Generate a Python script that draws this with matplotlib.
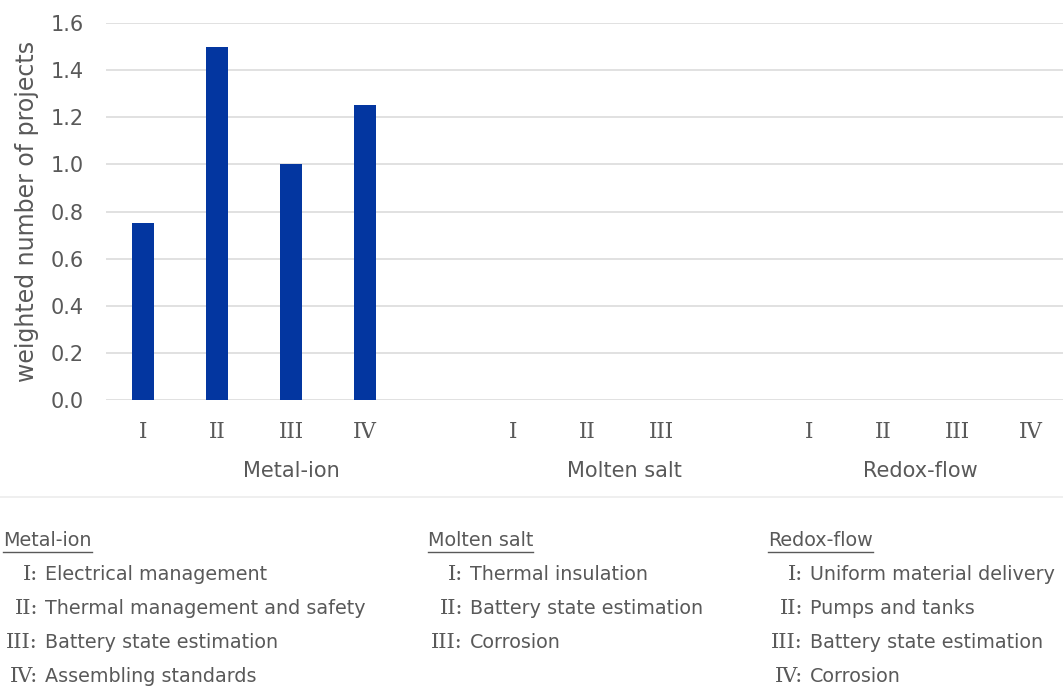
import matplotlib
matplotlib.use('Agg')
import matplotlib.pyplot as plt
from matplotlib.lines import Line2D

# data
groups = ['Metal-ion', 'Molten salt', 'Redox-flow']
subcats = [['I', 'II', 'III', 'IV'],
           ['I', 'II', 'III'],
           ['I', 'II', 'III', 'IV']]
values = [[0.75, 1.5, 1.0, 1.25],
          [0, 0, 0],
          [0, 0, 0, 0]]
descriptions = [['Electrical management', 'Thermal management and safety',
                 'Battery state estimation', 'Assembling standards'],
                ['Thermal insulation', 'Battery state estimation', 'Corrosion'],
                ['Uniform material delivery', 'Pumps and tanks',
                 'Battery state estimation', 'Corrosion']]
yticks = [0.0, 0.2, 0.4, 0.6, 0.8, 1.0, 1.2, 1.4, 1.6]

W, H = 1063, 686
bar_color = '#0336a0'
txt_color = '#595959'
grid_color = '#dcdcdc'
sans = 'DejaVu Sans'
serif = 'DejaVu Serif'

fig = plt.figure(figsize=(W / 100, H / 100), dpi=100)
# axes in pixel coords: left 106, bottom 400, top 23, width 13 slots of 74 px
ax = fig.add_axes([106 / W, 1 - 400 / H, 962 / W, 377 / H])

# slot positions, one blank slot between groups
positions, labels, heights, centers = [], [], [], []
pos = 0
for g, (cats, vals) in enumerate(zip(subcats, values)):
    start = pos
    for c, v in zip(cats, vals):
        positions.append(pos)
        labels.append(c)
        heights.append(v)
        pos += 1
    # group label spans its slots plus the blank slot after it
    end = pos if g < len(groups) - 1 else pos - 1
    centers.append((start + end) / 2)
    pos += 1

ax.bar(positions, heights, width=0.31, color=bar_color, zorder=3)
ax.set_xlim(-0.5, 12.5)
ax.set_ylim(0, 1.6)
ax.set_yticks(yticks, [f'{t:.1f}' for t in yticks])
ax.set_xticks(positions, labels)
for lab in ax.get_xticklabels():
    lab.set_fontfamily(serif)
ax.tick_params(axis='x', length=0, pad=15, labelsize=15.5, labelcolor=txt_color)
ax.tick_params(axis='y', length=0, pad=16, labelsize=15, labelcolor=txt_color)
ax.grid(axis='y', color=grid_color, linewidth=1.2, zorder=0)
for s in ax.spines.values():
    s.set_visible(False)
ax.set_ylabel('weighted number of projects', fontsize=17, color=txt_color,
              labelpad=8)

# group labels under the numerals
for name, cx in zip(groups, centers):
    ax.annotate(name, xy=(cx, 0), xycoords=ax.get_xaxis_transform(),
                xytext=(0, -71), textcoords='offset pixels',
                ha='center', va='center', fontsize=15, color=txt_color,
                family=sans)

# separator line under the chart
fig.add_artist(Line2D([0, 1], [1 - 497 / H] * 2, color='#ececec',
                      linewidth=1.2, transform=fig.transFigure))

# explanation block
col_x = [3, 428, 768]
fig.canvas.draw()
renderer = fig.canvas.get_renderer()
for g, name in enumerate(groups):
    x0 = col_x[g]
    head = fig.text(x0 / W, 1 - 540 / H, name, ha='left', va='center',
                    fontsize=13.8, color=txt_color, family=sans)
    bb = head.get_window_extent(renderer)
    fig.add_artist(Line2D([bb.x0 / W, bb.x1 / W], [(bb.y0 - 2) / H] * 2,
                          color=txt_color, linewidth=1.0,
                          transform=fig.transFigure))
    for i, (num, desc) in enumerate(zip(subcats[g], descriptions[g])):
        y = 1 - (574 + 34 * i) / H
        fig.text((x0 + 35) / W, y, num + ':', ha='right', va='center',
                 fontsize=15, color=txt_color, family=serif)
        fig.text((x0 + 42) / W, y, desc, ha='left', va='center',
                 fontsize=13.8, color=txt_color, family=sans)

fig.savefig('out.png', dpi=100, facecolor='white')
